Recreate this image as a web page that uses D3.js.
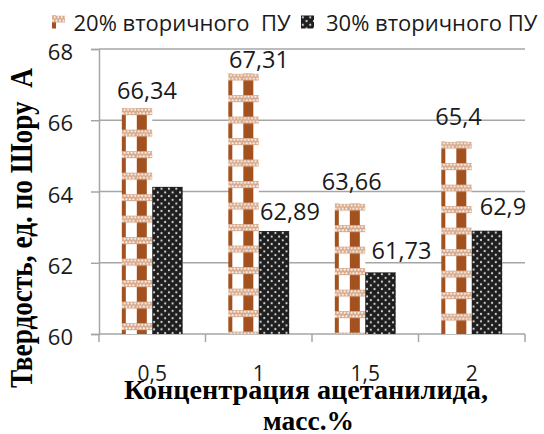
<!DOCTYPE html>
<html>
<head>
<meta charset="utf-8">
<script src="https://cdn.jsdelivr.net/npm/d3@7"></script>
<style>
  html, body { margin: 0; padding: 0; background: #fff; }
  svg { display: block; }
</style>
</head>
<body>
<svg id="chart" width="544" height="434"></svg>
<script>
// ---- data ----
const categories = ["0,5", "1", "1,5", "2"];
const seriesNames = ["20% вторичного  ПУ", "30% вторичного ПУ"];
const hardness20 = [66.34, 67.31, 63.66, 65.4];
const hardness30 = [64.13, 62.89, 61.73, 62.9];
const labelShown20 = [true, true, true, true];
const labelShown30 = [false, true, true, true];
const yTicks = [60, 62, 64, 66, 68];
const yTitle = "Твердость, ед. по Шору  А";
const xTitleLines = ["Концентрация ацетанилида,", "масс.%"];

// hand-placed data label nudges: [dx from bar centre, baseline offset from bar top]
const labelNudge20 = [[10, -9], [15.5, -5.3], [1.7, -13.6], [2, -17]];
const labelNudge30 = [[0, 0], [16, -11], [21, -13], [16, -15.7]];

// ---- layout ----
const plot = { left: 99, right: 525, top: 49, bottom: 334 };
const BROWN = "#a3521f";
const BAND = "#d8a98b";
const DARK = "#1e1e1e";
const GRID = "#a6a6a6";
const TEXT = "#1a1a1a";
const SANS = "'Open Sans', 'Noto Sans', sans-serif";
const SERIF = "'Liberation Serif', 'DejaVu Serif', serif";

const svg = d3.select("#chart");
const defs = svg.append("defs");

const y = d3.scaleLinear().domain([60, 68]).range([plot.bottom, plot.top]);
const x0 = d3.scaleBand()
  .domain(categories)
  .range([plot.left, plot.right])
  .paddingInner(3 / 7)
  .paddingOuter(1.5 / 7);
const x1 = d3.scaleBand().domain([0, 1]).range([0, x0.bandwidth()]);

// ---- fill patterns ----
let patternCount = 0;
function brownPattern(ox, oy) {
  const id = "plaid" + (patternCount++);
  const w = 21, h = 21.5;
  const p = defs.append("pattern")
    .attr("id", id)
    .attr("patternUnits", "userSpaceOnUse")
    .attr("width", w).attr("height", h)
    .attr("patternTransform", `translate(${ox - 6},${oy})`);
  p.append("rect").attr("width", w).attr("height", h).attr("fill", "#fff");
  p.append("rect").attr("width", 10).attr("height", h).attr("fill", BROWN);
  p.append("rect").attr("width", w).attr("height", 7).attr("fill", BAND);
  for (let i = 0; i < 6; i++) {
    p.append("circle").attr("cx", 1.75 + i * 3.5).attr("cy", 1.8).attr("r", 1).attr("fill", "#fff");
    p.append("circle").attr("cx", i * 3.5).attr("cy", 5.2).attr("r", 1).attr("fill", "#fff");
  }
  return `url(#${id})`;
}
function dotPattern(ox, oy) {
  const id = "dots" + (patternCount++);
  const s = 7.4;
  const p = defs.append("pattern")
    .attr("id", id)
    .attr("patternUnits", "userSpaceOnUse")
    .attr("width", s).attr("height", s)
    .attr("patternTransform", `translate(${ox},${oy})`);
  p.append("rect").attr("width", s).attr("height", s).attr("fill", DARK);
  p.append("circle").attr("cx", s / 4).attr("cy", s / 4).attr("r", 1.1).attr("fill", "#d4d4d4");
  p.append("circle").attr("cx", 3 * s / 4).attr("cy", 3 * s / 4).attr("r", 1.1).attr("fill", "#d4d4d4");
  return `url(#${id})`;
}

// ---- gridlines ----
svg.append("g").selectAll("line")
  .data(yTicks.filter(t => t !== 60))
  .join("line")
  .attr("x1", plot.left).attr("x2", plot.right)
  .attr("y1", d => y(d)).attr("y2", d => y(d))
  .attr("stroke", GRID).attr("stroke-width", 1.5);

// ---- y axis ----
const yAxis = svg.append("g")
  .attr("transform", `translate(${plot.left},0)`)
  .call(d3.axisLeft(y).tickValues(yTicks).tickSize(8).tickPadding(18).tickFormat(d3.format("d")));
yAxis.select(".domain").attr("stroke", GRID).attr("stroke-width", 1.5);
yAxis.selectAll(".tick line").attr("stroke", GRID).attr("stroke-width", 1.5);
yAxis.selectAll(".tick text")
  .attr("dy", 10.5)
  .attr("fill", TEXT)
  .style("font-family", SANS)
  .style("font-size", "22px");

// ---- x axis (ticks on category boundaries) ----
const boundaries = d3.range(categories.length + 1).map(i => plot.left + i * x0.step());
svg.append("line")
  .attr("x1", plot.left).attr("x2", plot.right)
  .attr("y1", plot.bottom).attr("y2", plot.bottom)
  .attr("stroke", GRID).attr("stroke-width", 1.5);
svg.append("g").selectAll("line")
  .data(boundaries)
  .join("line")
  .attr("x1", d => d).attr("x2", d => d)
  .attr("y1", plot.bottom).attr("y2", plot.bottom + 8)
  .attr("stroke", GRID).attr("stroke-width", 1.5);
svg.append("g").selectAll("text")
  .data(categories)
  .join("text")
  .attr("x", d => x0(d) + x0.bandwidth() / 2)
  .attr("y", 381)
  .attr("text-anchor", "middle")
  .attr("fill", TEXT)
  .style("font-family", SANS)
  .style("font-size", "21px")
  .text(d => d);

// ---- bars ----
const series = [
  { values: hardness20, shown: labelShown20, nudge: labelNudge20, fill: brownPattern },
  { values: hardness30, shown: labelShown30, nudge: labelNudge30, fill: dotPattern }
];
const fmt = v => String(v).replace(".", ",");

series.forEach((s, si) => {
  const g = svg.append("g");
  categories.forEach((c, ci) => {
    const v = s.values[ci];
    const bx = x0(c) + x1(si);
    const by = y(v);
    g.append("rect")
      .attr("x", bx).attr("y", by)
      .attr("width", x1.bandwidth())
      .attr("height", y(60) - by)
      .attr("fill", s.fill(bx, by));
    if (s.shown[ci]) {
      const [dx, dy] = s.nudge[ci];
      g.append("text")
        .attr("x", bx + x1.bandwidth() / 2 + dx)
        .attr("y", by + dy)
        .attr("text-anchor", "middle")
        .attr("fill", TEXT)
        .style("font-family", SANS)
        .style("font-size", "23.5px")
        .text(fmt(v));
    }
  });
});

// ---- legend ----
const legendItems = [
  { name: seriesNames[0], fill: brownPattern, mx: 52, tx: 73.5 },
  { name: seriesNames[1], fill: dotPattern, mx: 301, tx: 326 }
];
legendItems.forEach(item => {
  svg.append("rect")
    .attr("x", item.mx).attr("y", 15.5)
    .attr("width", 13).attr("height", 13)
    .attr("fill", item.fill(item.mx, 15.5));
  svg.append("text")
    .attr("x", item.tx).attr("y", 30.7)
    .attr("fill", TEXT)
    .style("font-family", SANS)
    .style("font-size", "22px")
    .style("white-space", "pre")
    .text(item.name);
});

// ---- axis titles ----
svg.append("text")
  .attr("transform", "translate(32,228) rotate(-90)")
  .attr("text-anchor", "middle")
  .attr("fill", "#000")
  .attr("textLength", 320)
  .attr("lengthAdjust", "spacingAndGlyphs")
  .style("font-family", SERIF)
  .style("font-weight", "bold")
  .style("font-size", "31px")
  .style("white-space", "pre")
  .text(yTitle);

const xTitleLayout = [
  { cx: 306, base: 399, len: 364 },
  { cx: 308.5, base: 430, len: 91 }
];
xTitleLines.forEach((line, i) => {
  svg.append("text")
    .attr("x", xTitleLayout[i].cx)
    .attr("y", xTitleLayout[i].base)
    .attr("text-anchor", "middle")
    .attr("fill", "#000")
    .attr("textLength", xTitleLayout[i].len)
    .attr("lengthAdjust", "spacingAndGlyphs")
    .style("font-family", SERIF)
    .style("font-weight", "bold")
    .style("font-size", "28px")
    .text(line);
});
</script>
</body>
</html>
